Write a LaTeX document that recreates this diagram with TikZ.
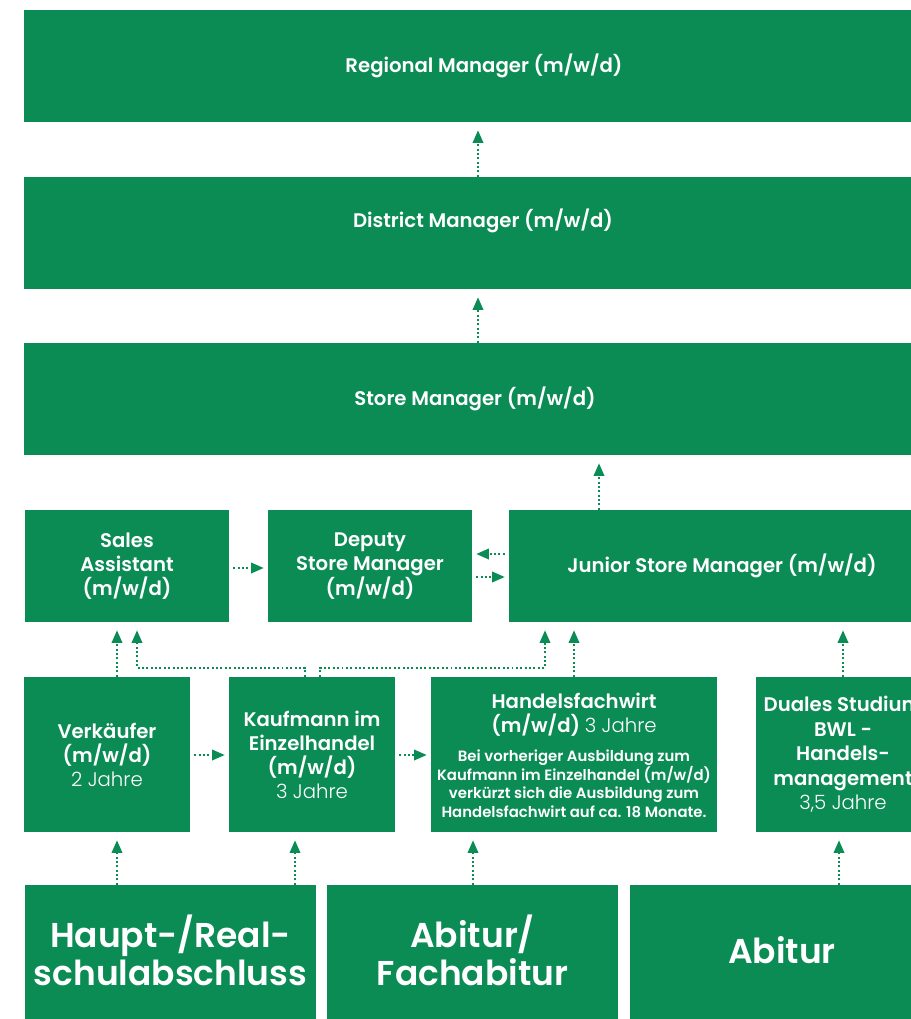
\documentclass[tikz,border=0pt]{standalone}
\usepackage{fontspec}
\setmainfont{Poppins}[BoldFont={Poppins SemiBold}]
\newfontfamily\lightfont{Poppins Light}
\usepackage{tikz}
\usetikzlibrary{arrows.meta,positioning,calc}
\definecolor{lidlgreen}{RGB}{11,140,85}
\tikzstyle{box}=[rectangle,fill=lidlgreen,text=white,inner sep=0pt,align=center,font=\fontsize{14}{17}\selectfont\bfseries]
\tikzstyle{txt}=[text=white,inner sep=0pt,align=center,font=\fontsize{14}{17}\selectfont\bfseries]
\tikzstyle{big}=[txt,font=\fontsize{24.5}{27}\selectfont\bfseries]
\tikzstyle{sz}=[minimum width=#1*0.025cm]
\tikzstyle{arr}=[lidlgreen,line width=1.4pt,dash pattern=on 1.4pt off 1.7pt,-{Triangle[length=9pt,width=7.5pt]},shorten >=0.2cm]
\tikzstyle{harr}=[arr,shorten >=0.1cm,shorten <=0.1cm]
\newcommand{\jahre}[1]{{\lightfont\mdseries #1}}
\newcommand{\notefont}{\fontsize{10.6}{13}\selectfont}

\begin{document}
\begin{tikzpicture}[x=0.025cm,y=-0.025cm]
      \clip (0,0) rectangle (911,1019);
      \fill[white] (0,0) rectangle (911,1019);
      % career levels
      \node[box,sz=920,minimum height=2.8cm] at (484,66) (regional) {Regional Manager (m/w/d)};
      \node[box,sz=918,minimum height=2.8cm] at (483,233) (district) {};
      \node[txt] at ([yshift=0.3cm]district.center) (district-t) {District Manager (m/w/d)};
      \node[box,sz=902,minimum height=2.8cm] at (475,399) (store) {Store Manager (m/w/d)};
      \node[box,sz=204,minimum height=2.8cm] at (127,566) (sales) {Sales\\Assistant\\(m/w/d)};
      \node[box,sz=204,minimum height=2.8cm] at (370,566) (deputy) {Deputy\\Store Manager\\(m/w/d)};
      \node[box,sz=426,minimum height=2.8cm] at (722,566) (junior) {Junior Store Manager (m/w/d)};
      % training
      \node[box,sz=166,minimum height=3.875cm] at (107,754.5) (verkaeufer) {Verkäufer\\(m/w/d)\\\jahre{2 Jahre}};
      \node[box,sz=166,minimum height=3.875cm] at (312,754.5) (kaufmann) {Kaufmann im\\Einzelhandel\\(m/w/d)\\\jahre{3 Jahre}};
      \node[box,sz=286,minimum height=3.875cm] at (574,754.5) (handel) {};
      \node[txt] at ([yshift=-0.09cm]handel.center) (handel-t) {Handelsfachwirt\\(m/w/d) \jahre{3 Jahre}\\[3pt]
        {\notefont\begin{tabular}[t]{@{}c@{}}Bei vorheriger Ausbildung zum\\Kaufmann im Einzelhandel (m/w/d)\\verkürzt sich die Ausbildung zum\\Handelsfachwirt auf ca. 18 Monate.\end{tabular}}};
      \node[box,sz=174,minimum height=3.875cm,font=\fontsize{14}{17.4}\selectfont\bfseries] at (843,754.5) (dual) {Duales Studium\\BWL -\\Handels-\\management\\\jahre{3,5 Jahre}};
      % school
      \node[box,sz=291,minimum height=3.625cm] at (170.5,957.5) (haupt) {};
      \node[box,sz=291,minimum height=3.625cm] at (472.5,957.5) (fachabi) {};
      \node[box,sz=304,minimum height=3.625cm] at (782,957.5) (abitur) {};
      \node[big] at ([yshift=0.19cm]haupt.center) (haupt-t) {Haupt-/Real-\\schulabschluss};
      \node[big] at ([yshift=0.19cm]fachabi.center) (fachabi-t) {Abitur/\\Fachabitur};
      \node[big] at ([yshift=0.19cm]abitur.center) (abitur-t) {Abitur};
      % vertical steps
      \draw[arr] (district.north -| 478,0) -- (regional.south -| 478,0);
      \draw[arr] (store.north -| 478,0) -- (district.south -| 478,0);
      \draw[arr] (junior.north -| 599,0) -- (store.south -| 599,0);
      \draw[arr] (verkaeufer.north -| 117,0) -- (sales.south -| 117,0);
      \draw[arr] (kaufmann.north -| 305,0) -- ++(0,-9) -| (sales.south -| 137,0);
      \draw[arr] (kaufmann.north -| 320,0) -- ++(0,-9) -| (junior.south -| 545,0);
      \draw[arr] (handel.north -| 574,0) -- (junior.south -| 574,0);
      \draw[arr] (dual.north -| 843,0) -- (junior.south -| 843,0);
      \draw[arr] (haupt.north -| 117,0) -- (verkaeufer.south -| 117,0);
      \draw[arr] (haupt.north -| 295,0) -- (kaufmann.south -| 295,0);
      \draw[arr] (fachabi.north -| 473,0) -- (handel.south -| 473,0);
      \draw[arr] (abitur.north -| 839,0) -- (dual.south -| 839,0);
      % horizontal steps
      \draw[harr] (sales.east |- 0,568) -- (deputy.west |- 0,568);
      \draw[harr] (junior.west |- 0,554) -- (deputy.east |- 0,554);
      \draw[harr] (deputy.east |- 0,577) -- (junior.west |- 0,577);
      \draw[harr] (verkaeufer.east |- 0,755) -- (kaufmann.west |- 0,755);
      \draw[harr] (kaufmann.east |- 0,755) -- (handel.west |- 0,755);
\end{tikzpicture}
\end{document}
